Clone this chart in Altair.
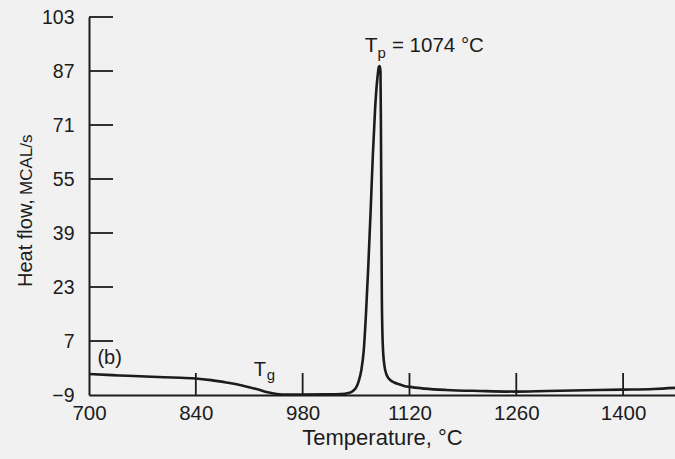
import altair as alt
import pandas as pd

# ---- data ----
temperature = [700, 740, 782, 820, 840, 860, 880, 895, 910, 922, 934, 946, 960, 980,
               1010, 1030, 1040, 1046, 1050, 1054, 1057, 1060, 1063, 1066, 1069, 1072,
               1075, 1078, 1080, 1081, 1082, 1082.6, 1083.2, 1083.8, 1085, 1087, 1090,
               1095, 1100, 1106, 1113, 1120, 1140, 1168, 1212, 1260, 1300, 1350, 1400,
               1440, 1468]
heat_flow = [-2.8, -3.2, -3.6, -3.9, -4.1, -4.6, -5.3, -5.9, -6.7, -7.4, -8.2, -8.7, -8.85, -8.85,
             -8.8, -8.7, -8.4, -7.8, -6.8, -4.5, -1.5, 4, 15, 29, 45, 62,
             76, 85, 88.3, 88.5, 87, 70, 45, 20, 6, 0, -3,
             -4.6, -5.3, -5.8, -6.3, -6.6, -7.1, -7.5, -7.8, -8.0, -7.8, -7.6, -7.4,
             -7.2, -6.9]

x_ticks = [700, 840, 980, 1120, 1260, 1400]
y_ticks = [-9, 7, 23, 39, 55, 71, 87, 103]

ann_text = ["T", "p", "= 1074 °C", "(b)", "T", "g"]
ann_x = [1061.5, 1078, 1097, 711, 916, 933]
ann_y = [92.5, 91, 92.5, 0.3, -3.3, -4.6]
ann_size = [21, 15, 20.5, 20, 20, 15]

FONT = "Liberation Sans"
INK = "#1c1c1c"

curve = pd.DataFrame({"T": temperature, "H": heat_flow})
ann = pd.DataFrame({"T": ann_x, "H": ann_y, "txt": ann_text, "sz": ann_size})

xs = alt.Scale(domain=[700, 1468], nice=False, zero=False)
ys = alt.Scale(domain=[-9, 103], nice=False, zero=False)

x_axis = alt.Axis(values=x_ticks, format="d", ticks=False, grid=False, domainColor=INK,
                  domainWidth=2, labelFont=FONT, labelFontSize=20.5, labelColor=INK,
                  labelPadding=8, labelFlush=False, labelOverlap=False,
                  title="Temperature, °C", titleFont=FONT, titleFontSize=22,
                  titleFontWeight="normal", titleColor=INK, titlePadding=4)
y_axis = alt.Axis(values=y_ticks, format="d", ticks=False, grid=False, domainColor=INK,
                  domainWidth=2, labelFont=FONT, labelFontSize=19.5, labelColor=INK,
                  labelPadding=15, labelFlush=False, labelOverlap=False, title=None)

line = alt.Chart(curve).mark_line(color=INK, strokeWidth=2.6, interpolate="monotone").encode(
    x=alt.X("T:Q", scale=xs, axis=x_axis),
    y=alt.Y("H:Q", scale=ys, axis=y_axis),
)

xt = alt.Chart(pd.DataFrame({"T": x_ticks[1:]})).mark_rule(color=INK, strokeWidth=1.8).encode(
    x=alt.X("T:Q", scale=xs), y=alt.value(378), y2=alt.value(356)
)
yt = alt.Chart(pd.DataFrame({"H": y_ticks[1:]})).mark_rule(color=INK, strokeWidth=1.8).encode(
    y=alt.Y("H:Q", scale=ys), x=alt.value(0), x2=alt.value(24)
)

labels = alt.Chart(ann).mark_text(font=FONT, color=INK, align="left", baseline="alphabetic").encode(
    x=alt.X("T:Q", scale=xs), y=alt.Y("H:Q", scale=ys), text="txt:N",
    size=alt.Size("sz:Q", scale=None)
)

ytitle1 = alt.Chart(pd.DataFrame({"t": ["Heat flow,"]})).mark_text(
    font=FONT, fontSize=20, color=INK, angle=270, align="left", baseline="alphabetic"
).encode(x=alt.value(-57), y=alt.value(270), text="t:N")
ytitle2 = alt.Chart(pd.DataFrame({"t": ["MCAL/s"]})).mark_text(
    font=FONT, fontSize=17, color=INK, angle=270, align="left", baseline="alphabetic"
).encode(x=alt.value(-57), y=alt.value(178), text="t:N")

chart = alt.layer(line, xt, yt, labels, ytitle1, ytitle2).properties(
    width=586, height=378,
    padding={"left": 89, "top": 17, "right": 0, "bottom": 64},
    autosize="none",
    background="#f1f1f1",
).configure_view(stroke=None)

chart.save("out.html", embed_options={"renderer": "svg", "actions": False})
